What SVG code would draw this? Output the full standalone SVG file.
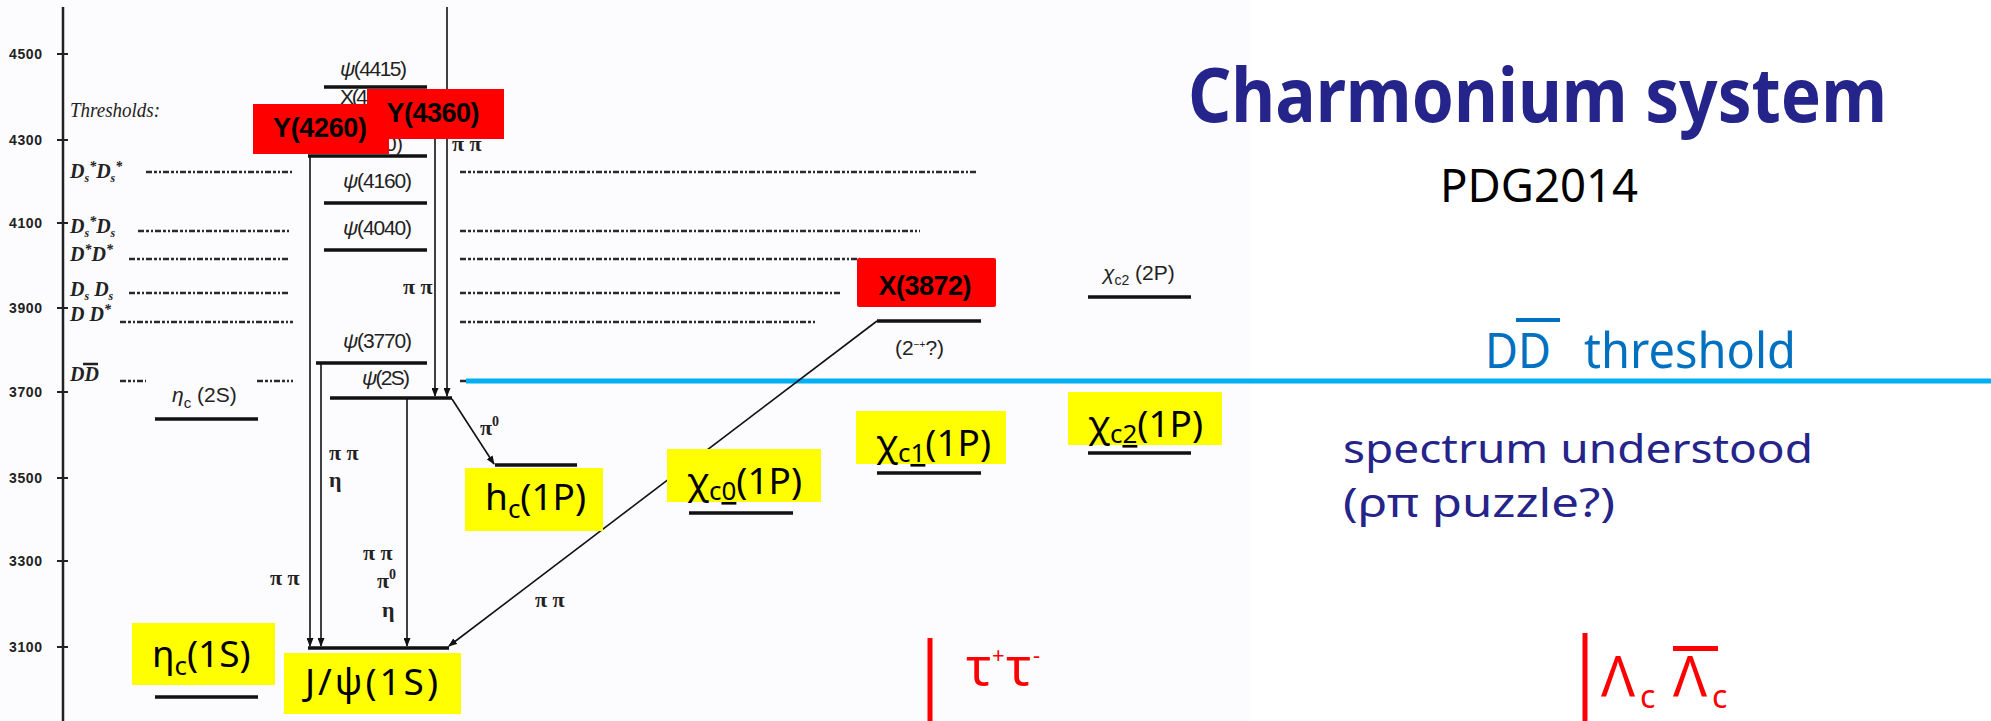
<svg xmlns="http://www.w3.org/2000/svg" width="1991" height="721" viewBox="0 0 1991 721">
<defs>
<marker id="ah" markerWidth="9" markerHeight="7" refX="8" refY="3.5" orient="auto" markerUnits="userSpaceOnUse">
<path d="M0,0 L9,3.5 L0,7 z" fill="#111"/>
</marker>
<style>
.lvl{stroke:#111;stroke-width:3.5;fill:none}
.tr{stroke:#111;stroke-width:1.6;fill:none;marker-end:url(#ah)}
.dash{stroke:#2a2a2a;stroke-width:2.4;stroke-dasharray:6 2 3 2 2 2;fill:none}
.ax{font-family:"Liberation Sans",Arial,sans-serif;font-weight:bold;font-size:14px;fill:#222}
.pdg{font-family:"Liberation Sans",Arial,sans-serif;font-size:21px;fill:#222}
.thr{font-family:"Liberation Serif","Times New Roman",serif;font-style:italic;font-weight:bold;font-size:20px;fill:#222}
.pi{font-family:"Liberation Serif","Times New Roman",serif;font-weight:bold;font-size:22px;fill:#222}
.yel{fill:#ffff00}
.red{fill:#ff0000}
.ylab{font-family:"Noto Sans",sans-serif;font-size:37px;fill:#000}
.rlab{font-family:"Liberation Sans",Arial,sans-serif;font-weight:bold;font-size:27px;fill:#000;text-anchor:middle}
.slide{font-family:"Noto Sans",sans-serif}
</style>
</defs>
<rect x="0" y="0" width="1991" height="721" fill="#ffffff"/>
<rect x="0" y="0" width="1250" height="721" fill="#fcfbfe"/>

<g id="axis">
<line x1="63" y1="7" x2="63" y2="721" stroke="#222" stroke-width="2.5"/>
<g stroke="#222" stroke-width="2">
<line x1="57" y1="54" x2="68" y2="54"/><line x1="57" y1="140" x2="68" y2="140"/>
<line x1="57" y1="223" x2="68" y2="223"/><line x1="57" y1="308" x2="68" y2="308"/>
<line x1="57" y1="392" x2="68" y2="392"/><line x1="57" y1="478" x2="68" y2="478"/>
<line x1="57" y1="561" x2="68" y2="561"/><line x1="57" y1="647" x2="68" y2="647"/>
</g>
<text class="ax" x="9" y="59" textLength="33">4500</text>
<text class="ax" x="9" y="145" textLength="33">4300</text>
<text class="ax" x="9" y="228" textLength="33">4100</text>
<text class="ax" x="9" y="313" textLength="33">3900</text>
<text class="ax" x="9" y="397" textLength="33">3700</text>
<text class="ax" x="9" y="483" textLength="33">3500</text>
<text class="ax" x="9" y="566" textLength="33">3300</text>
<text class="ax" x="9" y="652" textLength="33">3100</text>
</g>

<g id="thresholds">
<text x="70" y="117" font-family="Liberation Serif, Times New Roman, serif" font-style="italic" font-size="21" fill="#222" textLength="90" lengthAdjust="spacingAndGlyphs">Thresholds:</text>
<text class="thr" x="70" y="178">D<tspan font-size="12" dy="4">s</tspan><tspan font-size="14" dy="-11">*</tspan><tspan dy="7">D</tspan><tspan font-size="12" dy="4">s</tspan><tspan font-size="14" dy="-11">*</tspan></text>
<text class="thr" x="70" y="233">D<tspan font-size="12" dy="4">s</tspan><tspan font-size="14" dy="-11">*</tspan><tspan dy="7">D</tspan><tspan font-size="12" dy="4">s</tspan></text>
<text class="thr" x="70" y="261">D<tspan font-size="14" dy="-7">*</tspan><tspan dy="7">D</tspan><tspan font-size="14" dy="-7">*</tspan></text>
<text class="thr" x="70" y="296">D<tspan font-size="12" dy="4">s</tspan><tspan dy="-4"> D</tspan><tspan font-size="12" dy="4">s</tspan></text>
<text class="thr" x="70" y="321">D D<tspan font-size="14" dy="-7">*</tspan></text>
<text class="thr" x="70" y="381">DD</text>
<line x1="83" y1="364" x2="98" y2="364" stroke="#222" stroke-width="2.5"/>
<path class="dash" d="M146,172 H292 M460,172 H977 M138,231 H290 M460,231 H920 M129,259 H288 M460,259 H860 M129,293 H288 M460,293 H841 M120,322 H293 M460,322 H815 M120,381 H146 M257,381 H293 M460,381 H466"/>
</g>

<g id="dd-threshold-line">
<line x1="466" y1="381" x2="1991" y2="381" stroke="#00b0f0" stroke-width="5"/>
</g>

<g id="connectors">
<line class="tr" x1="310" y1="156" x2="310" y2="646"/>
<line class="tr" x1="321" y1="363" x2="321" y2="646"/>
<line class="tr" x1="407" y1="398" x2="407" y2="646"/>
<line class="tr" x1="435" y1="120" x2="435" y2="396"/>
<line class="tr" x1="447" y1="7" x2="447" y2="396"/>
<line class="tr" x1="452" y1="399" x2="494" y2="464"/>
<line class="tr" x1="877" y1="321" x2="449" y2="646"/>
</g>

<g id="levels">
<line class="lvl" x1="324" y1="87" x2="427" y2="87"/>
<line class="lvl" x1="308" y1="156" x2="427" y2="156"/>
<line class="lvl" x1="324" y1="203" x2="427" y2="203"/>
<line class="lvl" x1="324" y1="250" x2="427" y2="250"/>
<line class="lvl" x1="316" y1="363" x2="427" y2="363"/>
<line class="lvl" x1="330" y1="398" x2="452" y2="398"/>
<line class="lvl" x1="155" y1="419" x2="258" y2="419"/>
<line class="lvl" x1="495" y1="465" x2="577" y2="465"/>
<line class="lvl" x1="308" y1="648" x2="449" y2="648"/>
<line class="lvl" x1="155" y1="697" x2="258" y2="697"/>
<line class="lvl" x1="689" y1="513" x2="793" y2="513"/>
<line class="lvl" x1="877" y1="473" x2="981" y2="473"/>
<line class="lvl" x1="1088" y1="453" x2="1191" y2="453"/>
<line class="lvl" x1="1088" y1="297" x2="1191" y2="297"/>
<line class="lvl" x1="877" y1="321" x2="981" y2="321"/>
</g>

<g id="pdg-labels">
<text class="pdg" x="340" y="76" textLength="67"><tspan font-style="italic">ψ</tspan>(4415)</text>
<text class="pdg" x="340" y="104" textLength="28">X(4</text>
<text class="pdg" x="385" y="151" textLength="18">0)</text>
<text class="pdg" x="343" y="188" textLength="69"><tspan font-style="italic">ψ</tspan>(4160)</text>
<text class="pdg" x="343" y="235" textLength="69"><tspan font-style="italic">ψ</tspan>(4040)</text>
<text class="pdg" x="343" y="348" textLength="69"><tspan font-style="italic">ψ</tspan>(3770)</text>
<text class="pdg" x="362" y="385" textLength="48"><tspan font-style="italic">ψ</tspan>(2S)</text>
<text class="pdg" x="172" y="402" font-size="25"><tspan font-style="italic">η</tspan><tspan font-size="15" dy="6">c</tspan><tspan dy="-6"> (2S)</tspan></text>
<text class="pdg" x="1103" y="280" font-size="24"><tspan font-style="italic">χ</tspan><tspan font-size="14" dy="5">c2</tspan><tspan dy="-5"> (2P)</tspan></text>
<text class="pdg" x="895" y="355" font-size="16">(2<tspan font-size="10" dy="-7">−+</tspan><tspan dy="7">?)</tspan></text>
<text class="pi" x="452" y="151">π π</text>
<text class="pi" x="403" y="294">π π</text>
<text class="pi" x="329" y="460">π π</text>
<text class="pi" x="329" y="487">η</text>
<text class="pi" x="270" y="585">π π</text>
<text class="pi" x="363" y="560">π π</text>
<text class="pi" x="377" y="588">π<tspan font-size="14" dy="-9">0</tspan></text>
<text class="pi" x="382" y="617">η</text>
<text class="pi" x="480" y="435">π<tspan font-size="14" dy="-9">0</tspan></text>
<text class="pi" x="535" y="607">π π</text>
</g>

<g id="node-Y4260">
<rect class="red" x="253" y="104" width="136" height="50"/>
<text class="rlab" x="320" y="137" textLength="94">Y(4260)</text>
</g>
<g id="node-Y4360">
<rect class="red" x="367" y="89" width="137" height="50"/>
<text class="rlab" x="433" y="122" textLength="93">Y(4360)</text>
</g>
<g id="node-X3872">
<rect class="red" x="857" y="258" width="139" height="49" rx="2"/>
<text class="rlab" x="925" y="295" font-size="26" textLength="93">X(3872)</text>
</g>

<g id="node-etac1S">
<rect class="yel" x="132" y="623" width="143" height="62"/>
<text class="ylab" x="152" y="667">η<tspan font-size="26" dy="8">c</tspan><tspan dy="-8">(1S)</tspan></text>
</g>
<g id="node-jpsi">
<rect class="yel" x="284" y="653" width="177" height="61"/>
<text class="ylab" x="305" y="695" textLength="133">J/ψ(1S)</text>
</g>
<g id="node-hc">
<rect class="yel" x="465" y="468" width="138" height="63"/>
<text class="ylab" x="485" y="510">h<tspan font-size="26" dy="8">c</tspan><tspan dy="-8">(1P)</tspan></text>
</g>
<g id="node-chic0">
<rect class="yel" x="667" y="449" width="154" height="53"/>
<text class="ylab" x="687" y="494">χ<tspan font-size="26" dy="6">c<tspan text-decoration="underline">0</tspan></tspan><tspan dy="-6">(1P)</tspan></text>
</g>
<g id="node-chic1">
<rect class="yel" x="856" y="411" width="150" height="53"/>
<text class="ylab" x="876" y="456">χ<tspan font-size="26" dy="6">c<tspan text-decoration="underline">1</tspan></tspan><tspan dy="-6">(1P)</tspan></text>
</g>
<g id="node-chic2">
<rect class="yel" x="1068" y="392" width="154" height="53"/>
<text class="ylab" x="1088" y="437">χ<tspan font-size="26" dy="6">c<tspan text-decoration="underline">2</tspan></tspan><tspan dy="-6">(1P)</tspan></text>
</g>

<g id="title">
<text class="slide" x="1188" y="122" font-size="76" font-weight="bold" fill="#25248a" textLength="699" lengthAdjust="spacingAndGlyphs">Charmonium system</text>
<text class="slide" x="1440" y="202" font-size="46" fill="#000" textLength="198" lengthAdjust="spacingAndGlyphs">PDG2014</text>
</g>

<g id="dd-threshold-label">
<text class="slide" x="1485" y="368" font-size="50" fill="#0070c0" textLength="66" lengthAdjust="spacingAndGlyphs">DD</text>
<text class="slide" x="1584" y="368" font-size="50" fill="#0070c0" textLength="212" lengthAdjust="spacingAndGlyphs">threshold</text>
<rect x="1516" y="318" width="44" height="4" fill="#0070c0"/>
</g>

<g id="note">
<text class="slide" x="1343" y="463" font-size="40" fill="#25248a" textLength="470" lengthAdjust="spacingAndGlyphs">spectrum understood</text>
<text class="slide" x="1343" y="517" font-size="40" fill="#25248a" textLength="272" lengthAdjust="spacingAndGlyphs">(ρπ puzzle?)</text>
</g>

<g id="tau-threshold">
<line x1="930" y1="638" x2="930" y2="721" stroke="#ff0000" stroke-width="5"/>
<text class="slide" font-size="52" fill="#ff0000"><tspan x="966" y="685">τ</tspan><tspan x="992" y="663" font-size="22">+</tspan><tspan x="1006" y="685">τ</tspan><tspan x="1033" y="663" font-size="22">-</tspan></text>
</g>

<g id="lambdac-threshold">
<line x1="1585" y1="633" x2="1585" y2="721" stroke="#ff0000" stroke-width="5"/>
<text class="slide" font-size="56" fill="#ff0000"><tspan x="1601" y="697">Λ</tspan><tspan x="1640" y="708" font-size="32">c</tspan><tspan x="1673" y="697">Λ</tspan><tspan x="1712" y="708" font-size="32">c</tspan></text>
<rect x="1673" y="646" width="45" height="5" fill="#ff0000"/>
</g>
</svg>
